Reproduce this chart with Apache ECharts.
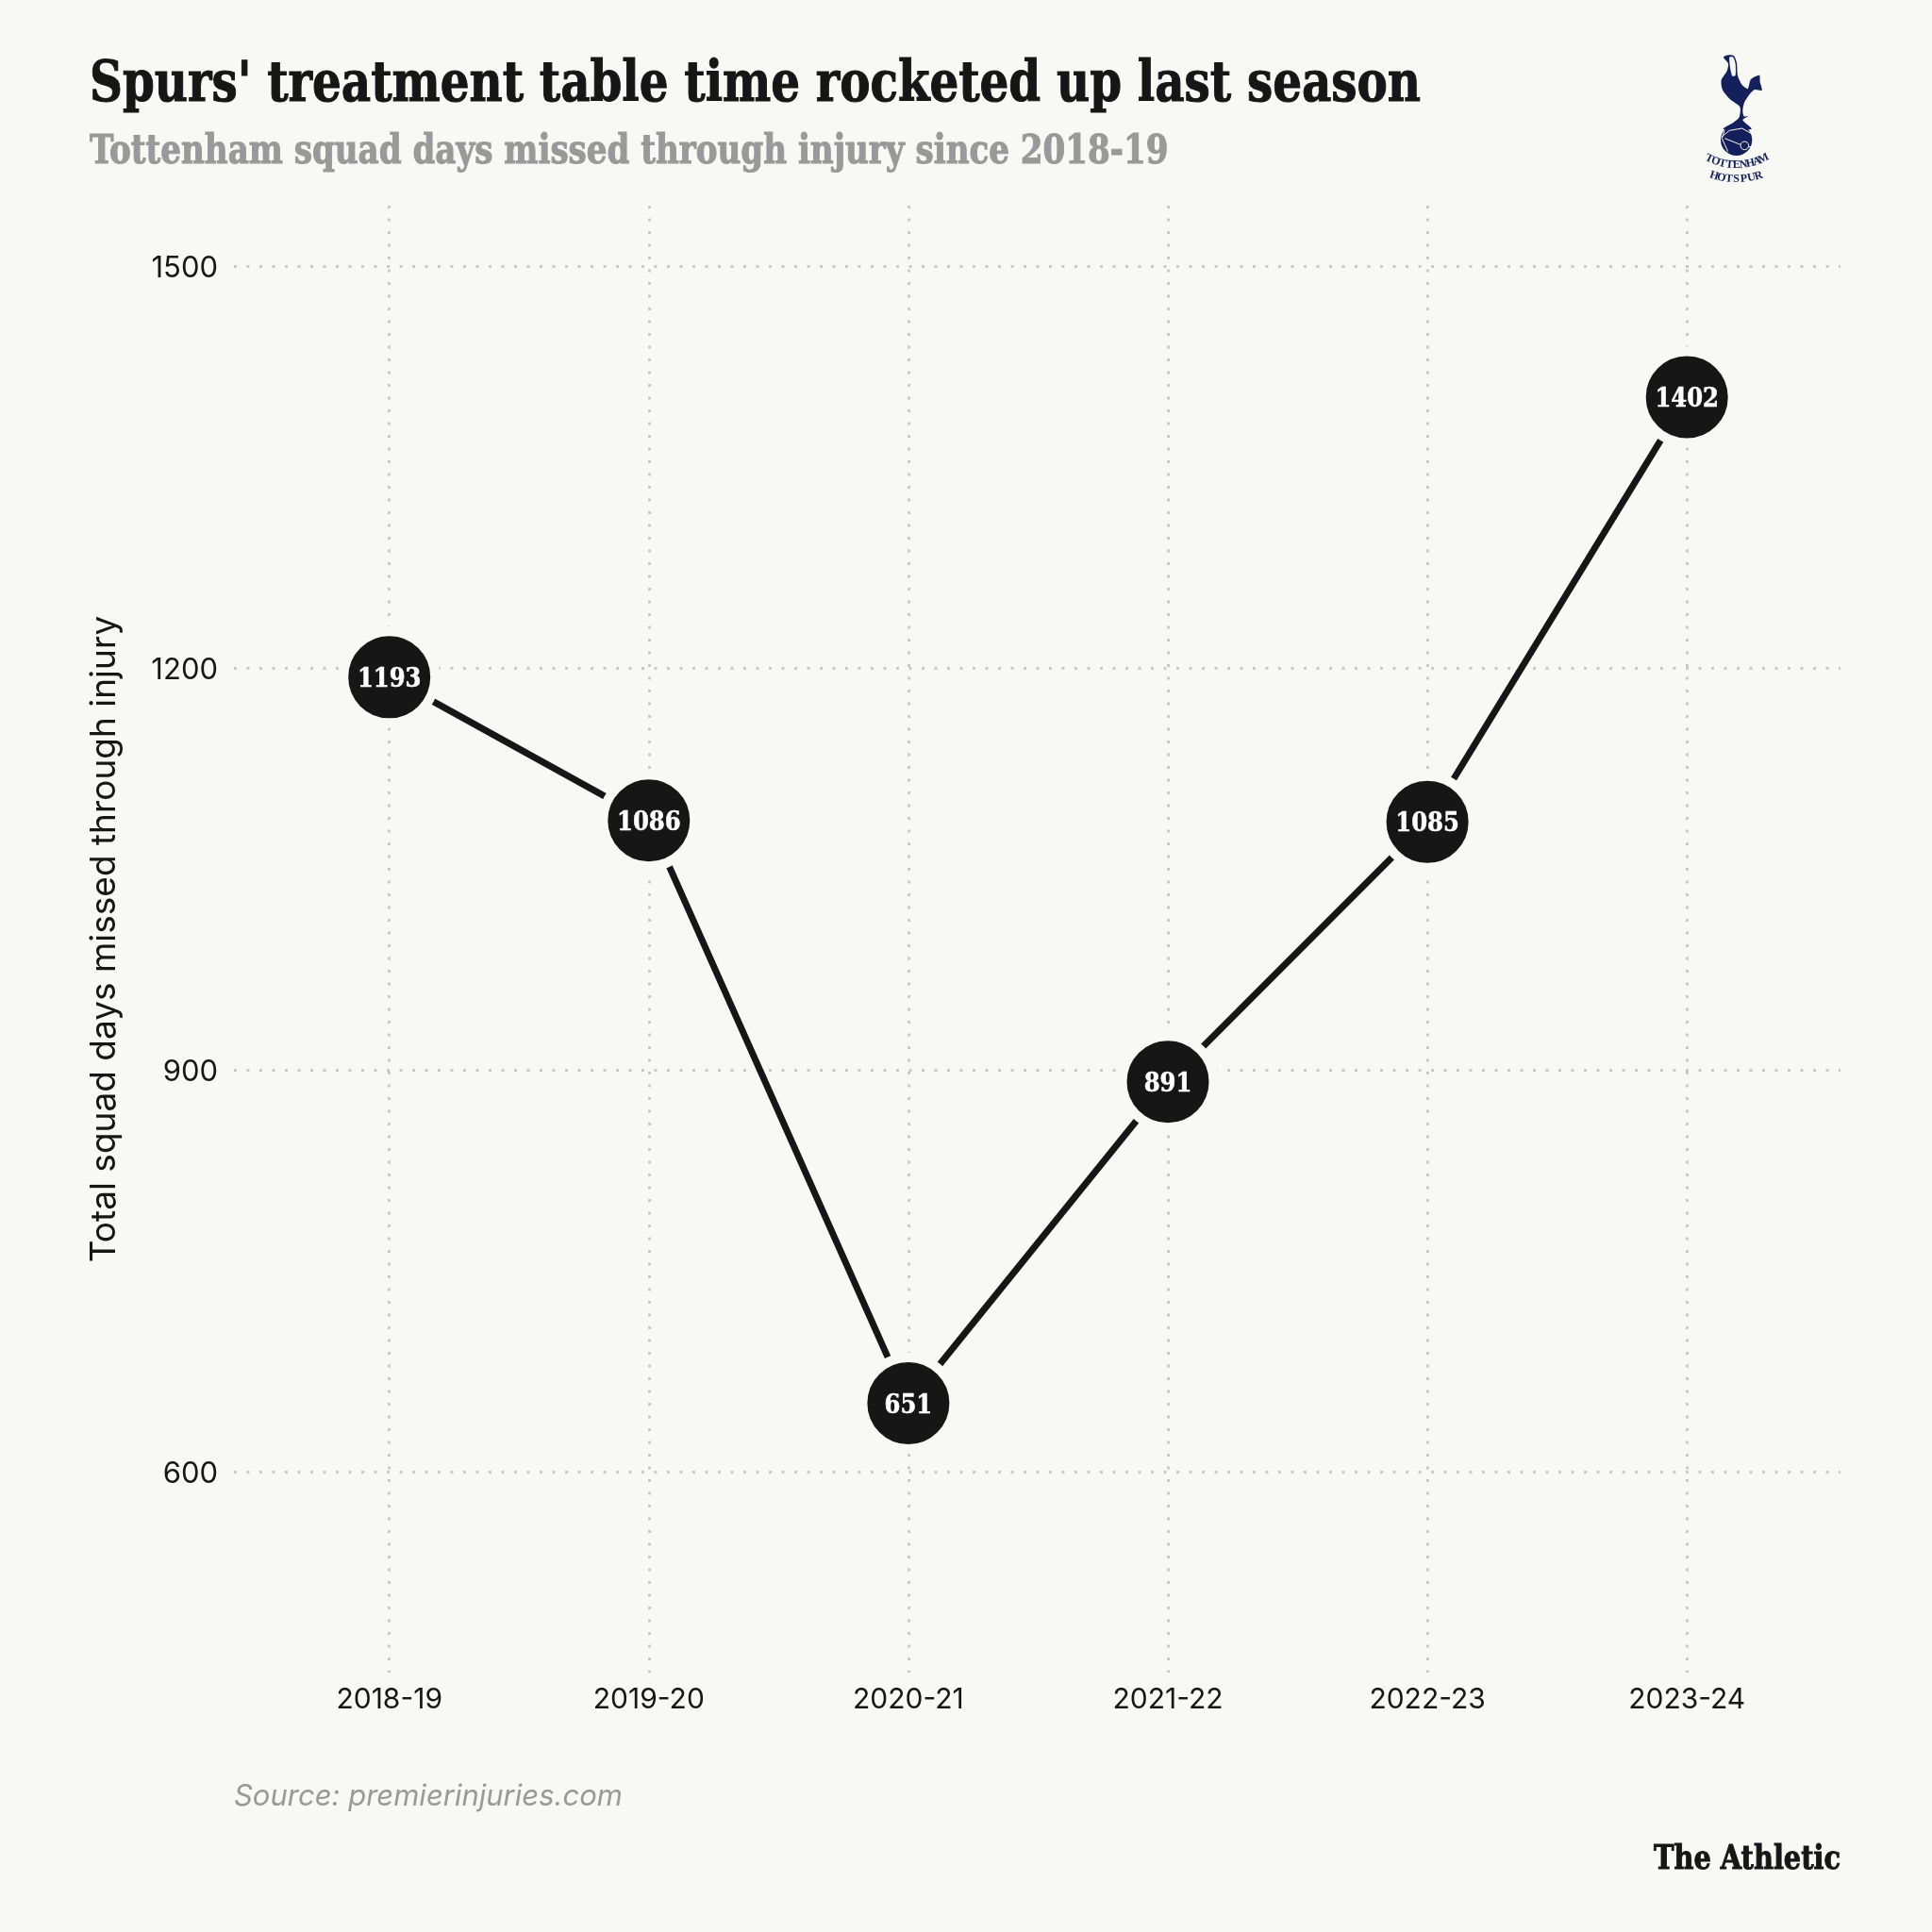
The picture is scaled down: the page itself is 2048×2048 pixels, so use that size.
<!DOCTYPE html>
<html>
<head>
<meta charset="utf-8">
<style>
	html,body{margin:0;padding:0;background:#f8f8f4;}
	#main{width:2048px;height:2048px;}
</style>
<script src="https://cdn.jsdelivr.net/npm/echarts@6/dist/echarts.min.js"></script>
</head>
<body>
<div id="main"></div>
<script>
	var seasons = ['2018-19','2019-20','2020-21','2021-22','2022-23','2023-24'];
	var daysMissed = [1193,1086,651,891,1085,1402];
	var yTickMin = 600;
	var yTickMax = 1500;
	var yTickStep = 300;

	var bg = '#f8f8f4';
	var ink = '#161616';
	var grey = '#999999';
	var dots = '#c9c9c9';
	var navy = '#14205c';
	var slab = '"DejaVu Serif Condensed","DejaVu Serif",serif';
	var sans = 'Inter,Roboto,sans-serif';

	// crest lettering, one rotated letter at a time along an arc
	function arcText(str,cx,cy,r,spread){
		var out = [];
		for(var i = 0;i<str.length;i++){
			var a = -spread/2 + spread*i/(str.length-1);
			out.push({
				type:'text',
				x:cx+r*Math.sin(a),
				y:cy+r*Math.cos(a),
				rotation:a,
				style:{text:str[i],fill:navy,font:'bold 36px "Liberation Serif",serif',align:'center',verticalAlign:'middle'}
			});
		}
		return out;
	}

	// slab headings are narrower than the installed serif, so squeeze them
	function slabText(str,x,y,size,color,squeeze,align){
		return {
			type:'text',x:x,y:y,scaleX:squeeze,
			style:{text:str,fill:color,stroke:color,lineWidth:1,font:'bold '+size+'px '+slab,align:align||'left',verticalAlign:'top'}
		};
	}

	// the crest is in crop coordinates, scaled down by the group
	var crest = [
		{type:'polygon',shape:{smooth:0.25,points:[[381,92],[398,85],[414,88],[423,110],[426,150],[440,180],[458,192],[468,162],[495,149],[497,170],[503,197],[480,195],[462,212],[447,236],[442,262],[446,280],[460,279],[442,292],[470,320],[380,320],[412,300],[431,283],[433,250],[402,226],[378,196],[374,165],[392,136],[396,112]]},style:{fill:navy}},
		{type:'polygon',shape:{smooth:0.2,points:[[400,92],[412,92],[419,112],[419,150],[409,152],[402,125]]},style:{fill:bg}},
		{type:'circle',shape:{cx:422,cy:355,r:50},style:{fill:navy}},
		{type:'polyline',shape:{points:[[375,345],[400,325],[440,318],[470,335]]},style:{stroke:bg,lineWidth:3,fill:'none'}},
		{type:'polyline',shape:{points:[[385,350],[430,368],[468,378]]},style:{stroke:bg,lineWidth:3,fill:'none'}},
		{type:'polyline',shape:{points:[[384,325],[376,350],[395,392]]},style:{stroke:bg,lineWidth:3,fill:'none'}},
		{type:'circle',shape:{cx:448,cy:373,r:13},style:{fill:navy,stroke:bg,lineWidth:3}}
	].concat(arcText('TOTTENHAM',422,240,195,0.92)).concat(arcText('HOTSPUR',422,240,240,0.6));

	var myChart = echarts.init(document.getElementById('main'));
	var option = {
		backgroundColor:bg,
		animation:false,
		title:[
			{text:'Source: premierinjuries.com',left:248,top:1889,padding:0,
				textStyle:{fontFamily:sans,fontStyle:'italic',fontWeight:'normal',fontSize:31,color:grey}}
		],
		// two grids: the wide one only carries the horizontal rules, the other one the seasons
		grid:[
			{left:248,width:1703,top:282,height:1278},
			{left:412.7,width:1375.5,top:218,height:1555}
		],
		xAxis:[
			{gridIndex:0,type:'value',min:0,max:1,show:false},
			{gridIndex:1,type:'category',boundaryGap:false,data:seasons,
				axisLine:{show:false},axisTick:{show:false},
				axisLabel:{margin:14,interval:0,fontFamily:sans,fontSize:30,color:ink},
				splitLine:{show:true,interval:0,lineStyle:{color:dots,width:3,type:[3,10.5]}}}
		],
		yAxis:[
			{gridIndex:0,type:'value',min:yTickMin,max:yTickMax,interval:yTickStep,
				axisLine:{show:false},axisTick:{show:false},
				axisLabel:{margin:17,
					formatter:function(v){return '{v|'+v+'}';},
					rich:{v:{padding:[5,0,0,0],fontFamily:sans,fontSize:31,color:ink}}},
				splitLine:{lineStyle:{color:dots,width:3,type:[3,10.5]}}},
			{gridIndex:1,type:'value',min:450,max:1545,
				axisLine:{show:false},axisTick:{show:false},axisLabel:{show:false},splitLine:{show:false},
				name:'Total squad days missed through injury',nameLocation:'middle',nameGap:283,
				nameTextStyle:{fontFamily:sans,fontSize:37,color:ink}}
		],
		series:[{
			type:'line',
			xAxisIndex:1,
			yAxisIndex:1,
			data:daysMissed,
			clip:false,
			symbol:'circle',
			symbolSize:97,
			lineStyle:{color:ink,width:7,cap:'butt'},
			itemStyle:{color:ink,borderColor:bg,borderWidth:10},
			label:{show:true,position:'inside',offset:[0,3],fontFamily:slab,fontWeight:'bold',fontSize:27,color:'#ffffff',
				textBorderColor:'#ffffff',textBorderWidth:0.5}
		}],
		graphic:{elements:[
			slabText("Spurs' treatment table time rocketed up last season",95,61,60,ink,0.896),
			slabText('Tottenham squad days missed through injury since 2018-19',95,141,42,grey,0.903),
			slabText('The Athletic',1951,1954,36,ink,0.89,'right'),
			{type:'group',x:1700,y:30,scaleX:1/3,scaleY:1/3,children:crest}
		]}
	};
	myChart.setOption(option);
</script>
</body>
</html>
